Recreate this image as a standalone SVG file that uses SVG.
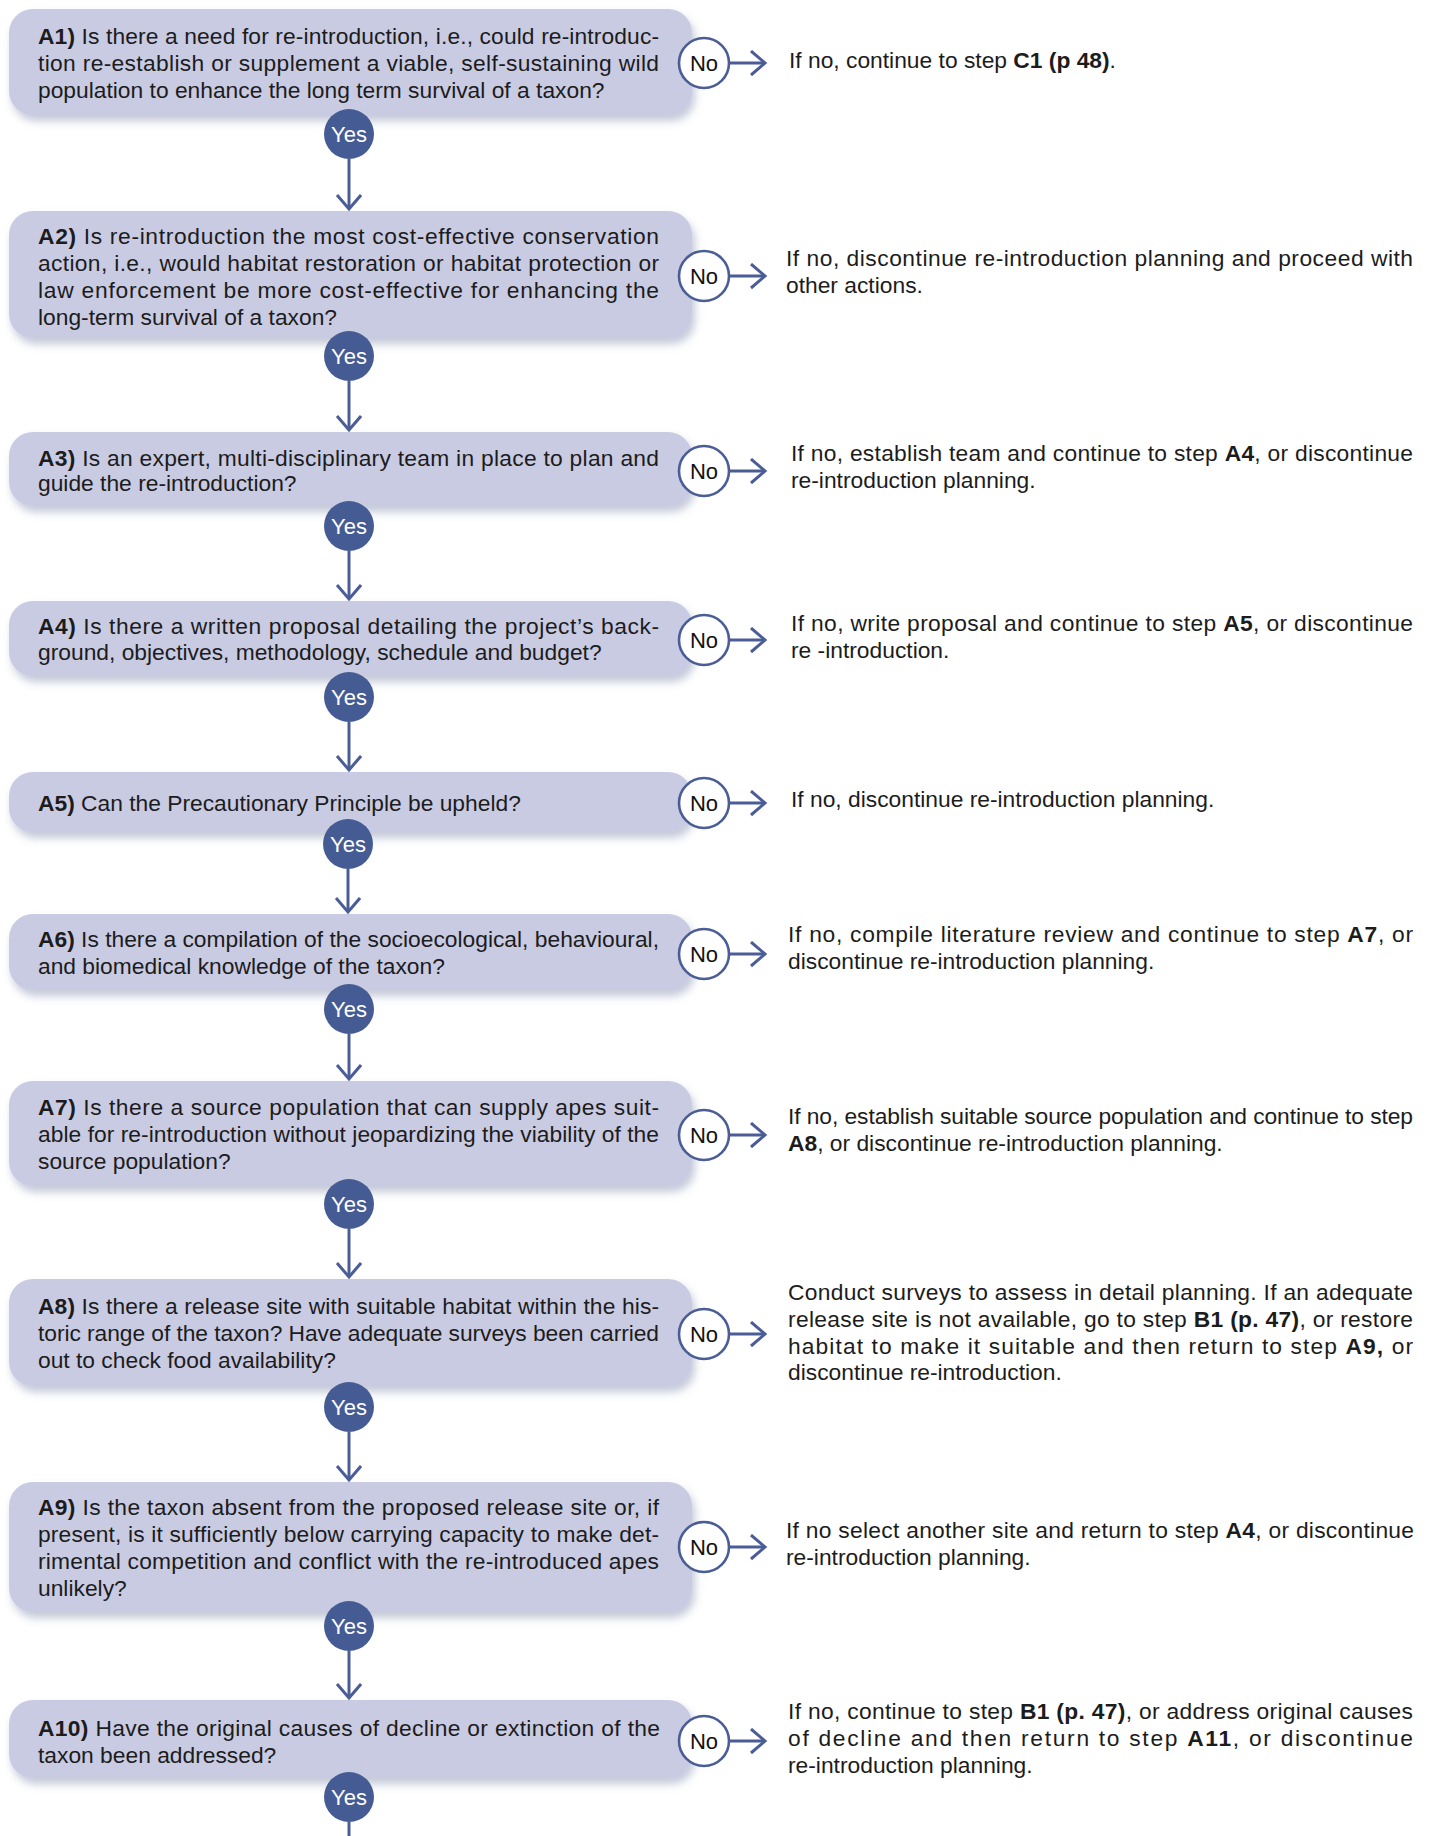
<svg xmlns="http://www.w3.org/2000/svg" width="1432" height="1836" viewBox="0 0 1432 1836">
<defs>
<filter id="sh" x="-5%" y="-10%" width="115%" height="140%">
<feDropShadow dx="3" dy="6" stdDeviation="4" flood-color="#7d84aa" flood-opacity="0.45"/>
</filter>
<marker id="ah" markerUnits="userSpaceOnUse" markerWidth="22" markerHeight="30" refX="15" refY="13" orient="auto" viewBox="0 0 22 30">
<path d="M1,1 L15,13 L1,25" fill="none" stroke="#4a5d97" stroke-width="3"/>
</marker>
<style>
.t{font-family:"Liberation Sans",Arial,sans-serif;font-size:22.8px;fill:#1c1c1c}
.b{font-weight:bold}
.box{fill:#c9cbe3;filter:url(#sh)}
.no{fill:#ffffff;stroke:#4a5d97;stroke-width:2.6}
.yes{fill:#455b94}
.nt{font-family:"Liberation Sans",Arial,sans-serif;font-size:22px;text-anchor:middle;fill:#111111}
.yt{font-family:"Liberation Sans",Arial,sans-serif;font-size:22px;text-anchor:middle;fill:#ffffff}
.c{stroke:#4a5d97;stroke-width:3;fill:none;marker-end:url(#ah)}
.c2{stroke:#4a5d97;stroke-width:3;fill:none}
</style>
</defs>

<g id="A1">
<rect class="box" x="9" y="9" width="683" height="106" rx="24"/>
<text class="t" x="38" y="44" textLength="621" lengthAdjust="spacing"><tspan class="b">A1)</tspan> Is there a need for re-introduction, i.e., could re-introduc-</text>
<text class="t" x="38" y="71" textLength="621" lengthAdjust="spacing">tion re-establish or supplement a viable, self-sustaining wild</text>
<text class="t" x="38" y="98">population to enhance the long term survival of a taxon?</text>
</g>
<g id="A1-no"><text class="t" x="789" y="68">If no, continue to step <tspan class="b">C1 (p 48)</tspan>.</text></g>

<g id="A2">
<rect class="box" x="9" y="211" width="683" height="127" rx="24"/>
<text class="t" x="38" y="244" textLength="621" lengthAdjust="spacing"><tspan class="b">A2)</tspan> Is re-introduction the most cost-effective conservation</text>
<text class="t" x="38" y="271" textLength="621" lengthAdjust="spacing">action, i.e., would habitat restoration or habitat protection or</text>
<text class="t" x="38" y="298" textLength="621" lengthAdjust="spacing">law enforcement be more cost-effective for enhancing the</text>
<text class="t" x="38" y="325">long-term survival of a taxon?</text>
</g>
<g id="A2-no">
<text class="t" x="786" y="266" textLength="627" lengthAdjust="spacing">If no, discontinue re-introduction planning and proceed with</text>
<text class="t" x="786" y="293">other actions.</text>
</g>

<g id="A3">
<rect class="box" x="9" y="432" width="683" height="74" rx="24"/>
<text class="t" x="38" y="466" textLength="621" lengthAdjust="spacing"><tspan class="b">A3)</tspan> Is an expert, multi-disciplinary team in place to plan and</text>
<text class="t" x="38" y="491">guide the re-introduction?</text>
</g>
<g id="A3-no">
<text class="t" x="791" y="461" textLength="622" lengthAdjust="spacing">If no, establish team and continue to step <tspan class="b">A4</tspan>, or discontinue</text>
<text class="t" x="791" y="488">re-introduction planning.</text>
</g>

<g id="A4">
<rect class="box" x="9" y="601" width="683" height="75" rx="24"/>
<text class="t" x="38" y="634" textLength="621" lengthAdjust="spacing"><tspan class="b">A4)</tspan> Is there a written proposal detailing the project’s back-</text>
<text class="t" x="38" y="660">ground, objectives, methodology, schedule and budget?</text>
</g>
<g id="A4-no">
<text class="t" x="791" y="631" textLength="622" lengthAdjust="spacing">If no, write proposal and continue to step <tspan class="b">A5</tspan>, or discontinue</text>
<text class="t" x="791" y="658">re -introduction.</text>
</g>

<g id="A5">
<rect class="box" x="9" y="772" width="683" height="60" rx="24"/>
<text class="t" x="38" y="811"><tspan class="b">A5)</tspan> Can the Precautionary Principle be upheld?</text>
</g>
<g id="A5-no"><text class="t" x="791" y="807">If no, discontinue re-introduction planning.</text></g>

<g id="A6">
<rect class="box" x="9" y="914" width="683" height="76" rx="24"/>
<text class="t" x="38" y="947" textLength="621" lengthAdjust="spacing"><tspan class="b">A6)</tspan> Is there a compilation of the socioecological, behavioural,</text>
<text class="t" x="38" y="974">and biomedical knowledge of the taxon?</text>
</g>
<g id="A6-no">
<text class="t" x="788" y="942" textLength="625" lengthAdjust="spacing">If no, compile literature review and continue to step <tspan class="b">A7</tspan>, or</text>
<text class="t" x="788" y="969">discontinue re-introduction planning.</text>
</g>

<g id="A7">
<rect class="box" x="9" y="1081" width="683" height="105" rx="24"/>
<text class="t" x="38" y="1115" textLength="621" lengthAdjust="spacing"><tspan class="b">A7)</tspan> Is there a source population that can supply apes suit-</text>
<text class="t" x="38" y="1142" textLength="621" lengthAdjust="spacing">able for re-introduction without jeopardizing the viability of the</text>
<text class="t" x="38" y="1169">source population?</text>
</g>
<g id="A7-no">
<text class="t" x="788" y="1124" textLength="625" lengthAdjust="spacing">If no, establish suitable source population and continue to step</text>
<text class="t" x="788" y="1151"><tspan class="b">A8</tspan>, or discontinue re-introduction planning.</text>
</g>

<g id="A8">
<rect class="box" x="9" y="1279" width="683" height="107" rx="24"/>
<text class="t" x="38" y="1314" textLength="621" lengthAdjust="spacing"><tspan class="b">A8)</tspan> Is there a release site with suitable habitat within the his-</text>
<text class="t" x="38" y="1341" textLength="621" lengthAdjust="spacing">toric range of the taxon? Have adequate surveys been carried</text>
<text class="t" x="38" y="1368">out to check food availability?</text>
</g>
<g id="A8-no">
<text class="t" x="788" y="1300" textLength="625" lengthAdjust="spacing">Conduct surveys to assess in detail planning. If an adequate</text>
<text class="t" x="788" y="1327" textLength="625" lengthAdjust="spacing">release site is not available, go to step <tspan class="b">B1 (p. 47)</tspan>, or restore</text>
<text class="t" x="788" y="1354" textLength="625" lengthAdjust="spacing">habitat to make it suitable and then return to step <tspan class="b">A9,</tspan> or</text>
<text class="t" x="788" y="1380">discontinue re-introduction.</text>
</g>

<g id="A9">
<rect class="box" x="9" y="1482" width="683" height="130" rx="24"/>
<text class="t" x="38" y="1515" textLength="621" lengthAdjust="spacing"><tspan class="b">A9)</tspan> Is the taxon absent from the proposed release site or, if</text>
<text class="t" x="38" y="1542" textLength="621" lengthAdjust="spacing">present, is it sufficiently below carrying capacity to make det-</text>
<text class="t" x="38" y="1569" textLength="621" lengthAdjust="spacing">rimental competition and conflict with the re-introduced apes</text>
<text class="t" x="38" y="1596">unlikely?</text>
</g>
<g id="A9-no">
<text class="t" x="786" y="1538" textLength="628" lengthAdjust="spacing">If no select another site and return to step <tspan class="b">A4</tspan>, or discontinue</text>
<text class="t" x="786" y="1565">re-introduction planning.</text>
</g>

<g id="A10">
<rect class="box" x="9" y="1700" width="683" height="78" rx="24"/>
<text class="t" x="38" y="1736" textLength="622" lengthAdjust="spacing"><tspan class="b">A10)</tspan> Have the original causes of decline or extinction of the</text>
<text class="t" x="38" y="1763">taxon been addressed?</text>
</g>
<g id="A10-no">
<text class="t" x="788" y="1719" textLength="625" lengthAdjust="spacing">If no, continue to step <tspan class="b">B1 (p. 47)</tspan>, or address original causes</text>
<text class="t" x="788" y="1746" textLength="625" lengthAdjust="spacing">of decline and then return to step <tspan class="b">A11</tspan>, or discontinue</text>
<text class="t" x="788" y="1773">re-introduction planning.</text>
</g>

<g id="connectors">
<path class="c" d="M349,159 V209"/>
<path class="c" d="M349,381 V430"/>
<path class="c" d="M349,551 V599"/>
<path class="c" d="M349,722 V770"/>
<path class="c" d="M348,869 V912"/>
<path class="c" d="M349,1034 V1079"/>
<path class="c" d="M349,1229 V1277"/>
<path class="c" d="M349,1432 V1480"/>
<path class="c" d="M349,1651 V1698"/>
<path class="c2" d="M349,1822 V1836"/>
<path class="c" d="M729,63 H765"/>
<path class="c" d="M729,276 H765"/>
<path class="c" d="M729,471 H765"/>
<path class="c" d="M729,640 H765"/>
<path class="c" d="M729,803 H765"/>
<path class="c" d="M729,954 H765"/>
<path class="c" d="M729,1135 H765"/>
<path class="c" d="M729,1334 H765"/>
<path class="c" d="M729,1547 H765"/>
<path class="c" d="M729,1741 H765"/>
</g>

<g id="labels">
<circle class="no" cx="704" cy="63" r="25"/><text class="nt" x="704" y="71">No</text>
<circle class="yes" cx="349" cy="134" r="25"/><text class="yt" x="349" y="142">Yes</text>
<circle class="no" cx="704" cy="276" r="25"/><text class="nt" x="704" y="284">No</text>
<circle class="yes" cx="349" cy="356" r="25"/><text class="yt" x="349" y="364">Yes</text>
<circle class="no" cx="704" cy="471" r="25"/><text class="nt" x="704" y="479">No</text>
<circle class="yes" cx="349" cy="526" r="25"/><text class="yt" x="349" y="534">Yes</text>
<circle class="no" cx="704" cy="640" r="25"/><text class="nt" x="704" y="648">No</text>
<circle class="yes" cx="349" cy="697" r="25"/><text class="yt" x="349" y="705">Yes</text>
<circle class="no" cx="704" cy="803" r="25"/><text class="nt" x="704" y="811">No</text>
<circle class="yes" cx="348" cy="844" r="25"/><text class="yt" x="348" y="852">Yes</text>
<circle class="no" cx="704" cy="954" r="25"/><text class="nt" x="704" y="962">No</text>
<circle class="yes" cx="349" cy="1009" r="25"/><text class="yt" x="349" y="1017">Yes</text>
<circle class="no" cx="704" cy="1135" r="25"/><text class="nt" x="704" y="1143">No</text>
<circle class="yes" cx="349" cy="1204" r="25"/><text class="yt" x="349" y="1212">Yes</text>
<circle class="no" cx="704" cy="1334" r="25"/><text class="nt" x="704" y="1342">No</text>
<circle class="yes" cx="349" cy="1407" r="25"/><text class="yt" x="349" y="1415">Yes</text>
<circle class="no" cx="704" cy="1547" r="25"/><text class="nt" x="704" y="1555">No</text>
<circle class="yes" cx="349" cy="1626" r="25"/><text class="yt" x="349" y="1634">Yes</text>
<circle class="no" cx="704" cy="1741" r="25"/><text class="nt" x="704" y="1749">No</text>
<circle class="yes" cx="349" cy="1797" r="25"/><text class="yt" x="349" y="1805">Yes</text>
</g>
</svg>
